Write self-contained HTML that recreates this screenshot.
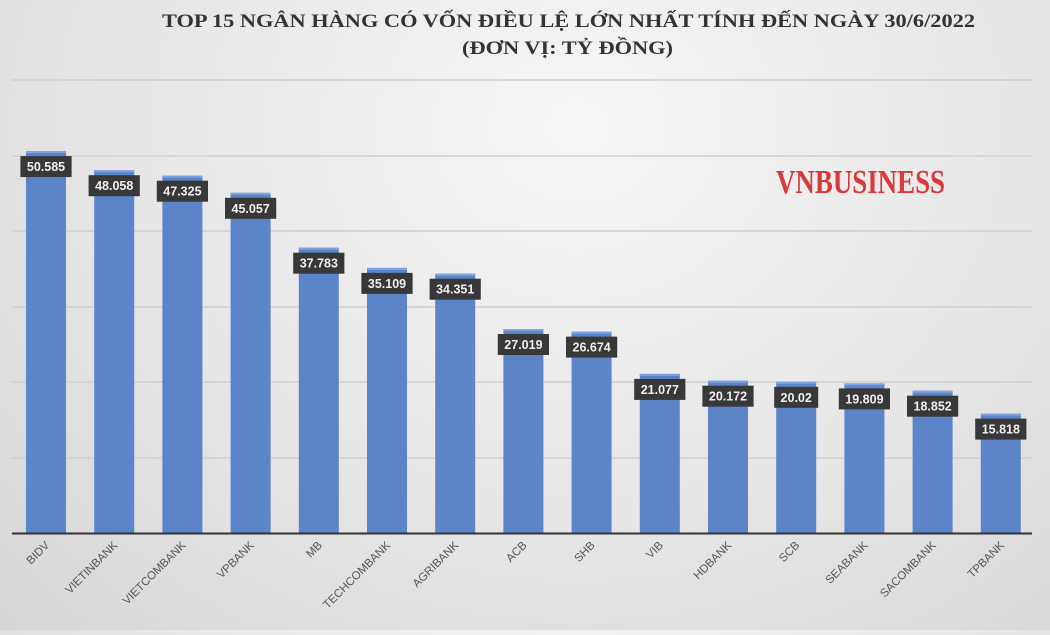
<!DOCTYPE html>
<html><head><meta charset="utf-8"><style>
html,body{margin:0;padding:0;}
body{width:1050px;height:630px;overflow:hidden;background:radial-gradient(ellipse at 55% 20%,#f6f6f6 0%,#e6e6e6 55%,#d6d6d6 100%);}
.b{fill:#5b84c9}
.bt{fill:#7fa3e0}
.lb{fill:#383838}
.v{font-family:"Liberation Sans",sans-serif;font-weight:600;font-size:12.5px;fill:#f0f0f0;text-anchor:middle}
.x{font-family:"Liberation Sans",sans-serif;font-size:11.5px;fill:#555;text-anchor:end}
</style></head><body>
<svg width="1050" height="630" xmlns="http://www.w3.org/2000/svg">
<g font-family="Liberation Serif, serif" font-weight="bold" font-size="19" fill="#333">
<text x="162" y="27" textLength="813" lengthAdjust="spacingAndGlyphs">TOP 15 NGÂN HÀNG CÓ VỐN ĐIỀU LỆ LỚN NHẤT TÍNH ĐẾN NGÀY 30/6/2022</text>
<text x="462" y="54" textLength="211" lengthAdjust="spacingAndGlyphs">(ĐƠN VỊ: TỶ ĐỒNG)</text>
</g>
<g stroke="#cfcfcf" stroke-width="1.5">
<line x1="12" x2="1032" y1="80" y2="80"/>
<line x1="12" x2="1032" y1="156" y2="156"/>
<line x1="12" x2="1032" y1="231" y2="231"/>
<line x1="12" x2="1032" y1="307" y2="307"/>
<line x1="12" x2="1032" y1="382" y2="382"/>
<line x1="12" x2="1032" y1="458" y2="458"/>
</g>
<text x="776" y="193" font-family="Liberation Serif, serif" font-weight="bold" font-size="34" fill="#d9393a" textLength="169" lengthAdjust="spacingAndGlyphs">VNBUSINESS</text>

<g transform="translate(46 151.1)"><rect class="b" x="-20" y="0" width="40" height="381.9"/><rect class="bt" x="-20" y="0" width="40" height="2"/><rect class="lb" x="-25.6" y="5" width="51.2" height="21"/><text class="v" x="0" y="20">50.585</text></g>
<g transform="translate(114.2 170.2)"><rect class="b" x="-20" y="0" width="40" height="362.8"/><rect class="bt" x="-20" y="0" width="40" height="2"/><rect class="lb" x="-25.6" y="5" width="51.2" height="21"/><text class="v" x="0" y="20">48.058</text></g>
<g transform="translate(182.4 175.7)"><rect class="b" x="-20" y="0" width="40" height="357.3"/><rect class="bt" x="-20" y="0" width="40" height="2"/><rect class="lb" x="-25.6" y="5" width="51.2" height="21"/><text class="v" x="0" y="20">47.325</text></g>
<g transform="translate(250.6 192.8)"><rect class="b" x="-20" y="0" width="40" height="340.2"/><rect class="bt" x="-20" y="0" width="40" height="2"/><rect class="lb" x="-25.6" y="5" width="51.2" height="21"/><text class="v" x="0" y="20">45.057</text></g>
<g transform="translate(318.8 247.7)"><rect class="b" x="-20" y="0" width="40" height="285.3"/><rect class="bt" x="-20" y="0" width="40" height="2"/><rect class="lb" x="-25.6" y="5" width="51.2" height="21"/><text class="v" x="0" y="20">37.783</text></g>
<g transform="translate(387 267.9)"><rect class="b" x="-20" y="0" width="40" height="265.1"/><rect class="bt" x="-20" y="0" width="40" height="2"/><rect class="lb" x="-25.6" y="5" width="51.2" height="21"/><text class="v" x="0" y="20">35.109</text></g>
<g transform="translate(455.2 273.7)"><rect class="b" x="-20" y="0" width="40" height="259.3"/><rect class="bt" x="-20" y="0" width="40" height="2"/><rect class="lb" x="-25.6" y="5" width="51.2" height="21"/><text class="v" x="0" y="20">34.351</text></g>
<g transform="translate(523.4 329)"><rect class="b" x="-20" y="0" width="40" height="204"/><rect class="bt" x="-20" y="0" width="40" height="2"/><rect class="lb" x="-25.6" y="5" width="51.2" height="21"/><text class="v" x="0" y="20">27.019</text></g>
<g transform="translate(591.6 331.6)"><rect class="b" x="-20" y="0" width="40" height="201.4"/><rect class="bt" x="-20" y="0" width="40" height="2"/><rect class="lb" x="-25.6" y="5" width="51.2" height="21"/><text class="v" x="0" y="20">26.674</text></g>
<g transform="translate(659.8 373.9)"><rect class="b" x="-20" y="0" width="40" height="159.1"/><rect class="bt" x="-20" y="0" width="40" height="2"/><rect class="lb" x="-25.6" y="5" width="51.2" height="21"/><text class="v" x="0" y="20">21.077</text></g>
<g transform="translate(728 380.7)"><rect class="b" x="-20" y="0" width="40" height="152.3"/><rect class="bt" x="-20" y="0" width="40" height="2"/><rect class="lb" x="-25.6" y="5" width="51.2" height="21"/><text class="v" x="0" y="20">20.172</text></g>
<g transform="translate(796.2 381.8)"><rect class="b" x="-20" y="0" width="40" height="151.2"/><rect class="bt" x="-20" y="0" width="40" height="2"/><rect class="lb" x="-22" y="5" width="44" height="21"/><text class="v" x="0" y="20">20.02</text></g>
<g transform="translate(864.4 383.4)"><rect class="b" x="-20" y="0" width="40" height="149.6"/><rect class="bt" x="-20" y="0" width="40" height="2"/><rect class="lb" x="-25.6" y="5" width="51.2" height="21"/><text class="v" x="0" y="20">19.809</text></g>
<g transform="translate(932.6 390.7)"><rect class="b" x="-20" y="0" width="40" height="142.3"/><rect class="bt" x="-20" y="0" width="40" height="2"/><rect class="lb" x="-25.6" y="5" width="51.2" height="21"/><text class="v" x="0" y="20">18.852</text></g>
<g transform="translate(1000.8 413.6)"><rect class="b" x="-20" y="0" width="40" height="119.4"/><rect class="bt" x="-20" y="0" width="40" height="2"/><rect class="lb" x="-25.6" y="5" width="51.2" height="21"/><text class="v" x="0" y="20">15.818</text></g>

<line x1="12" x2="1032" y1="533.5" y2="533.5" stroke="#333" stroke-width="2"/>

<text class="x" transform="translate(50 546) rotate(-45)">BIDV</text>
<text class="x" transform="translate(118.2 546) rotate(-45)">VIETINBANK</text>
<text class="x" transform="translate(186.4 546) rotate(-45)">VIETCOMBANK</text>
<text class="x" transform="translate(254.6 546) rotate(-45)">VPBANK</text>
<text class="x" transform="translate(322.8 546) rotate(-45)">MB</text>
<text class="x" transform="translate(391 546) rotate(-45)">TECHCOMBANK</text>
<text class="x" transform="translate(459.2 546) rotate(-45)">AGRIBANK</text>
<text class="x" transform="translate(527.4 546) rotate(-45)">ACB</text>
<text class="x" transform="translate(595.6 546) rotate(-45)">SHB</text>
<text class="x" transform="translate(663.8 546) rotate(-45)">VIB</text>
<text class="x" transform="translate(732 546) rotate(-45)">HDBANK</text>
<text class="x" transform="translate(800.2 546) rotate(-45)">SCB</text>
<text class="x" transform="translate(868.4 546) rotate(-45)">SEABANK</text>
<text class="x" transform="translate(936.6 546) rotate(-45)">SACOMBANK</text>
<text class="x" transform="translate(1004.8 546) rotate(-45)">TPBANK</text>
</svg>
</body></html>
